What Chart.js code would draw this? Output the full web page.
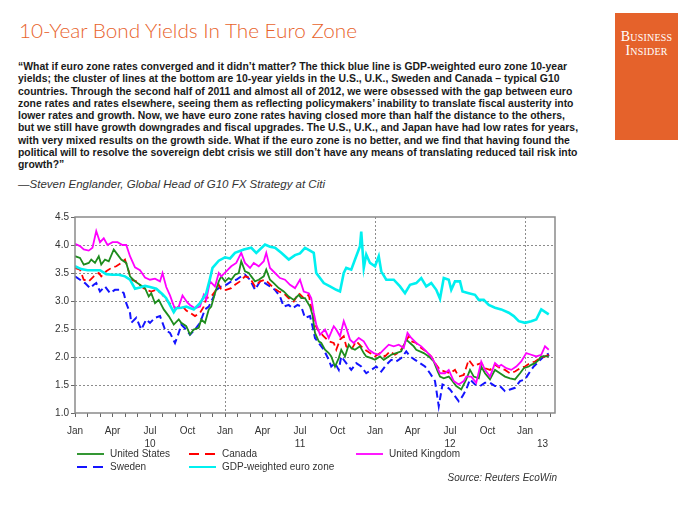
<!DOCTYPE html>
<html><head><meta charset="utf-8">
<script src="https://cdn.jsdelivr.net/npm/chart.js@4.4.0/dist/chart.umd.min.js"></script>
<style>
html,body{margin:0;padding:0;background:#fff;}
body{width:700px;height:525px;position:relative;overflow:hidden;font-family:"Liberation Sans",Arial,sans-serif;}
#title{position:absolute;left:19px;top:19px;font-family:Lato,"Liberation Sans",sans-serif;font-weight:300;font-size:20px;line-height:22px;color:#E8632C;white-space:nowrap;transform-origin:0 0;}
#logo{position:absolute;left:615px;top:13px;width:63px;height:127px;background:#E5622B;}
#logo div{position:absolute;left:0;width:63px;text-align:center;color:#fff;font-family:"Liberation Serif","DejaVu Serif",serif;font-variant:small-caps;font-size:14px;line-height:14px;letter-spacing:0.2px}
#quote{position:absolute;left:18px;top:60px;font-weight:bold;font-size:11px;line-height:12.3px;color:#1a1a1a;transform-origin:0 0;white-space:nowrap;}
#quote span{display:inline-block}
#attr{position:absolute;left:18px;top:177px;font-style:italic;font-size:11px;line-height:14px;color:#333;white-space:nowrap;transform-origin:0 0;}
#chartbox{position:absolute;left:0;top:200px;width:700px;height:300px;}
.leg{position:absolute;font-size:10px;line-height:12px;color:#333;white-space:nowrap;}
.sw{position:absolute;}
#source{position:absolute;right:143px;top:472px;font-size:10px;line-height:12px;font-style:italic;color:#333;white-space:nowrap;}
</style>
</head><body>
<div id="title">10-Year Bond Yields In The Euro Zone</div>
<div id="logo"><div style="top:17px">Business</div><div style="top:31px">Insider</div></div>
<div id="quote"><span id="q1">“What if euro zone rates converged and it didn’t matter? The thick blue line is GDP-weighted euro zone 10-year</span><br><span>yields; the cluster of lines at the bottom are 10-year yields in the U.S., U.K., Sweden and Canada – typical G10</span><br><span>countries. Through the second half of 2011 and almost all of 2012, we were obsessed with the gap between euro</span><br><span>zone rates and rates elsewhere, seeing them as reflecting policymakers’ inability to translate fiscal austerity into</span><br><span>lower rates and growth. Now, we have euro zone rates having closed more than half the distance to the others,</span><br><span>but we still have growth downgrades and fiscal upgrades. The U.S., U.K., and Japan have had low rates for years,</span><br><span>with very mixed results on the growth side. What if the euro zone is no better, and we find that having found the</span><br><span>political will to resolve the sovereign debt crisis we still don’t have any means of translating reduced tail risk into</span><br><span>growth?”</span></div>
<div id="attr">—Steven Englander, Global Head of G10 FX Strategy at Citi</div>
<div id="chartbox"><canvas id="c" width="700" height="300"></canvas></div>
<div id="legend"></div>
<div id="source">Source: Reuters EcoWin</div>
<script>
// x values are months since Jan 2010
const monthLabels = ['Jan','Apr','Jul','Oct'];
const yearLabels = ['10','11','12','13'];
const seriesNames = ['United States','Canada','United Kingdom','Sweden','GDP-weighted euro zone'];

const usX = [0,0.4,0.7,1.1,1.3,1.6,1.9,2.1,2.4,2.7,3.1,3.3,3.7,4.1,4.4,4.8,5.2,5.6,5.9,6.1,6.4,6.7,7.1,7.5,7.9,8.3,8.5,8.9,9.2,9.5,9.9,10.1,10.4,10.7,10.9,11.2,11.5,11.7,12.0,12.3,12.5,12.8,13.1,13.3,13.6,13.9,14.1,14.4,14.7,15.1,15.3,15.6,15.9,16.3,16.7,17.1,17.5,17.9,18.1,18.4,18.8,19.0,19.2,19.5,19.7,20.0,20.3,20.5,20.8,21.1,21.3,21.6,21.9,22.1,22.4,22.8,23.1,23.3,23.7,24.0,24.4,24.7,25.1,25.3,25.7,26.1,26.5,26.8,27.1,27.3,27.9,28.3,28.7,29.0,29.2,29.5,29.9,30.1,30.5,30.9,31.3,31.6,31.9,32.3,32.5,32.8,33.2,33.6,34.0,34.4,34.8,35.2,35.6,35.9,36.3,36.5,36.8,37.1,37.3,37.6,37.9];
const usY = [3.80,3.77,3.65,3.68,3.74,3.68,3.80,3.65,3.74,3.71,3.92,3.86,3.74,3.68,3.44,3.35,3.29,3.23,3.08,3.14,2.96,3.02,2.85,2.73,2.58,2.67,2.61,2.55,2.40,2.49,2.52,2.67,2.61,2.85,2.90,3.14,3.35,3.44,3.35,3.41,3.38,3.47,3.50,3.71,3.53,3.50,3.44,3.35,3.38,3.44,3.56,3.38,3.32,3.23,3.17,3.08,3.02,3.11,3.05,3.05,2.90,2.75,2.43,2.28,2.25,2.13,2.07,2.01,1.83,1.98,2.13,2.01,2.22,2.16,2.13,2.19,2.07,2.01,1.98,1.95,2.01,1.95,2.01,2.04,2.07,2.10,2.31,2.25,2.19,2.13,2.07,2.01,1.92,1.75,1.65,1.62,1.65,1.60,1.48,1.42,1.60,1.77,1.65,1.62,1.83,1.71,1.60,1.77,1.71,1.65,1.62,1.60,1.71,1.80,1.83,1.86,1.89,1.95,2.01,2.01,2.01];

const caX = [0,0.4,0.7,1.1,1.5,1.9,2.1,2.5,2.9,3.3,3.7,4.0,4.3,4.5,4.9,5.3,5.7,6.1,6.5,6.9,7.3,7.7,8.1,8.5,8.9,9.2,9.6,10.0,10.3,10.5,10.9,11.2,11.5,11.7,12.1,12.5,12.8,13.2,13.6,14.0,14.4,14.8,15.2,15.5,15.9,16.3,16.7,17.1,17.5,17.9,18.3,18.7,18.9,19.2,19.5,19.9,20.3,20.7,20.9,21.2,21.5,21.7,22.1,22.5,22.9,23.2,23.6,24.0,24.4,24.8,25.2,25.6,26.0,26.4,26.7,26.9,27.3,27.7,28.1,28.5,28.9,29.2,29.6,30.0,30.4,30.7,31.1,31.5,31.9,32.1,32.5,32.8,33.2,33.6,34.0,34.4,34.8,35.2,35.6,36.0,36.4,36.8,37.2,37.6,37.9];
const caY = [3.59,3.56,3.38,3.35,3.44,3.50,3.44,3.53,3.59,3.62,3.68,3.74,3.53,3.38,3.35,3.26,3.20,3.17,3.20,3.14,3.02,2.93,2.87,2.93,2.83,2.79,2.73,2.79,2.90,3.05,3.08,3.17,3.29,3.20,3.20,3.23,3.29,3.35,3.44,3.41,3.26,3.35,3.38,3.32,3.23,3.17,3.14,3.05,2.99,3.14,3.05,3.11,2.88,2.58,2.46,2.37,2.28,2.25,2.13,2.31,2.37,2.19,2.13,2.28,2.19,2.13,2.07,2.01,2.07,2.01,2.10,2.04,2.10,2.25,2.37,2.28,2.25,2.16,2.10,2.01,1.86,1.77,1.74,1.71,1.77,1.65,1.68,1.95,1.83,1.86,1.89,1.80,1.77,1.86,1.80,1.77,1.71,1.74,1.80,1.83,1.89,1.92,1.98,2.01,2.04];

const ukX = [0,0.4,0.7,1.1,1.4,1.7,2.0,2.3,2.6,3.0,3.4,3.8,4.1,4.4,4.8,5.2,5.6,6.0,6.4,6.8,7.0,7.3,7.6,8.0,8.3,8.6,9.0,9.2,9.6,10.0,10.3,10.5,10.8,11.2,11.5,11.7,12.1,12.5,12.9,13.3,13.6,14.0,14.3,14.7,15.1,15.3,15.6,16.0,16.4,16.8,17.2,17.6,18.0,18.3,18.7,18.9,19.1,19.3,19.6,20.0,20.3,20.7,20.9,21.2,21.5,21.7,22.0,22.3,22.7,23.1,23.5,23.9,24.3,24.7,25.1,25.5,25.9,26.3,26.6,26.9,27.3,27.7,28.1,28.5,28.9,29.2,29.6,29.9,30.3,30.7,31.1,31.3,31.7,32.1,32.5,32.8,33.2,33.6,33.9,34.1,34.5,34.9,35.3,35.7,36.1,36.5,36.9,37.3,37.6,37.9];
const ukY = [4.02,3.98,3.92,3.90,3.95,4.25,4.05,4.12,4.00,4.05,4.05,4.00,4.00,3.80,3.60,3.55,3.42,3.38,3.40,3.35,3.50,3.25,3.10,2.85,2.90,3.10,2.97,2.93,2.87,2.90,3.11,3.02,3.35,3.26,3.50,3.44,3.53,3.62,3.68,3.86,3.68,3.59,3.68,3.62,3.71,3.86,3.59,3.50,3.41,3.38,3.29,3.23,3.38,3.17,3.14,3.05,2.79,2.58,2.40,2.49,2.34,2.55,2.49,2.37,2.64,2.52,2.31,2.25,2.34,2.28,2.13,2.07,2.04,2.13,2.22,2.19,2.22,2.16,2.43,2.34,2.25,2.19,2.10,2.01,1.85,1.71,1.71,1.77,1.57,1.51,1.57,1.65,1.65,1.54,1.92,1.77,1.65,1.89,1.83,1.86,1.80,1.77,1.83,1.92,2.07,2.04,2.01,2.04,2.19,2.13];

const seX = [0,0.4,0.8,1.2,1.5,1.7,2.0,2.4,2.8,3.2,3.6,3.9,4.1,4.4,4.5,4.9,5.3,5.7,6.0,6.4,6.8,7.2,7.6,8.0,8.3,8.5,8.9,9.2,9.6,10.0,10.4,10.7,11.1,11.3,11.7,12.1,12.5,12.9,13.3,13.6,14.0,14.4,14.8,15.2,15.6,16.0,16.4,16.7,17.1,17.4,17.8,18.1,18.4,18.8,19.0,19.2,19.5,19.9,20.3,20.5,20.8,21.1,21.3,21.7,22.1,22.5,22.9,23.3,23.7,24.1,24.5,24.9,25.3,25.7,26.1,26.5,26.8,27.2,27.6,28.0,28.4,28.8,29.1,29.4,29.7,30.0,30.3,30.7,31.0,31.3,31.6,32.0,32.4,32.8,33.2,33.6,34.0,34.4,34.8,35.2,35.6,36.0,36.4,36.7,37.1,37.5,37.8,37.9];
const seY = [3.44,3.38,3.32,3.23,3.29,3.32,3.17,3.26,3.14,3.20,3.20,3.14,2.96,2.79,2.61,2.70,2.49,2.67,2.61,2.70,2.73,2.49,2.43,2.25,2.43,2.58,2.49,2.40,2.49,2.61,2.85,2.90,3.08,3.20,3.26,3.29,3.35,3.38,3.44,3.47,3.38,3.20,3.35,3.32,3.26,3.20,3.08,2.90,2.93,2.87,2.93,2.90,2.70,2.73,2.55,2.34,2.25,2.13,1.95,1.83,1.89,1.77,2.01,1.89,1.77,1.89,1.83,1.71,1.77,1.83,1.74,1.86,1.95,1.92,1.98,2.10,2.01,1.95,1.89,1.83,1.71,1.57,1.12,1.51,1.48,1.42,1.33,1.21,1.30,1.42,1.60,1.51,1.48,1.54,1.54,1.48,1.48,1.39,1.42,1.45,1.57,1.60,1.74,1.83,1.92,2.01,2.07,2.01];

const euX = [0,0.5,1.0,1.5,2.0,2.5,3.0,3.5,4.0,4.4,4.8,5.2,5.6,6.0,6.5,7.0,7.3,7.9,8.1,8.5,8.9,9.5,10.0,10.5,10.8,11.0,11.5,12.0,12.4,12.8,13.5,14.1,14.5,15.2,15.6,16.0,16.5,17.1,17.6,18.0,18.4,18.8,19.1,19.3,19.9,20.4,20.9,21.2,21.5,21.7,22.1,22.4,22.8,22.9,23.1,23.3,23.6,24.0,24.3,24.5,24.9,25.5,26.0,26.4,26.8,27.3,27.7,28.1,28.5,28.9,29.2,29.5,29.9,30.1,30.4,30.8,31.0,31.5,32.0,32.3,32.7,33.1,33.6,34.1,34.7,35.1,35.5,36.0,36.5,36.9,37.3,37.9];
const euY = [3.62,3.57,3.55,3.55,3.55,3.48,3.47,3.47,3.44,3.38,3.22,3.24,3.27,3.25,3.22,3.12,3.05,2.80,2.87,2.88,2.90,2.85,2.96,3.14,3.40,3.59,3.72,3.78,3.76,3.86,3.92,3.95,3.86,4.01,3.97,3.95,3.86,3.74,3.82,3.85,3.95,3.90,3.86,3.50,3.32,3.26,3.20,3.17,3.50,3.59,3.56,3.74,3.98,4.24,3.59,3.83,3.68,3.62,3.80,3.53,3.38,3.38,3.26,3.14,3.29,3.32,3.41,3.26,3.32,3.20,3.04,3.41,3.38,3.20,3.35,3.35,3.17,3.14,3.11,3.02,3.02,2.93,2.88,2.85,2.79,2.73,2.64,2.61,2.64,2.67,2.85,2.76];

const yTicks = [1.0,1.5,2.0,2.5,3.0,3.5,4.0,4.5];
const xTicks = [];
for (let m = 0; m <= 38; m++) { xTicks.push(m); if (m === 37) xTicks.push(37.4); }

const colors = ['#1E8C1E','#FF0000','#FF00FF','#1414FF','#00F0F0'];
const widths = [1.8,1.8,1.8,2,2.6];
const dashes = [[],[7,4],[],[7,4],[]];
const xs = [usX,caX,ukX,seX,euX];
const ys = [usY,caY,ukY,seY,euY];
const orders = [2,3,1,4,0];

const datasets = seriesNames.map((name,i)=>({
  label:name,
  data: xs[i].map((x,j)=>({x:x,y:ys[i][j]})),
  borderColor: colors[i], borderWidth: widths[i], borderDash: dashes[i],
  pointRadius:0, fill:false, tension:0, order: orders[i]
}));

function xLabel(v){
  if (Math.abs(v-37.4) < 0.01) return ['', yearLabels[3]];
  if (v % 3 !== 0) return '';
  const name = monthLabels[(v % 12)/3];
  if (v % 12 === 6) return [name, yearLabels[(v-6)/12]];
  return name;
}

const boxPlugin = {
  id:'box',
  afterDraw(chart){
    const {ctx, chartArea:a} = chart;
    ctx.save();
    ctx.strokeStyle = '#8a8a8a';
    ctx.lineWidth = 1.5;
    ctx.strokeRect(a.left, a.top, a.right-a.left, a.bottom-a.top);
    ctx.restore();
  }
};

const font = {family:'"Liberation Sans", Arial, sans-serif', size:10, lineHeight:1.3};
const GRIDC = '#8c8c8c';

new Chart(document.getElementById('c'), {
  type:'line',
  data:{datasets},
  plugins:[boxPlugin],
  options:{
    animation:false, responsive:false,
    layout:{padding:{left:35,right:145,top:17,bottom:47}},
    plugins:{legend:{display:false}, tooltip:{enabled:false}},
    scales:{
      x:{
        type:'linear', min:0, max:38.4,
        afterBuildTicks:(s)=>{ s.ticks = xTicks.map(v=>({value:v})); },
        afterFit:(s)=>{ s.height = 40; },
        ticks:{autoSkip:false, maxRotation:0, minRotation:0, padding:8, color:'#333', font:font, callback:(v)=>xLabel(v)},
        grid:{
          color:(c)=> (c.tick && c.tick.value>0 && c.tick.value%12===0) ? GRIDC : 'rgba(255,255,255,0)',
          tickColor:(c)=> (c.tick && Math.abs(c.tick.value-37.4)<0.01) ? 'rgba(255,255,255,0)' : '#666',
          tickLength:4, lineWidth:1
        },
        border:{display:false, dash:[2,2]}
      },
      y:{
        type:'linear', min:1, max:4.5,
        afterBuildTicks:(s)=>{ s.ticks = yTicks.map(v=>({value:v})); },
        afterFit:(s)=>{ s.width = 40; },
        ticks:{padding:2, color:'#333', font:font, callback:(v)=>Number(v).toFixed(1)},
        grid:{
          color:(c)=> (c.tick && c.tick.value>1 && c.tick.value<4.5) ? GRIDC : 'rgba(255,255,255,0)',
          tickColor:'#666', tickLength:4, lineWidth:1
        },
        border:{display:false, dash:[2,2]}
      }
    }
  }
});

// HTML legend
const legPos = [[77,110,454.3],[189,222,454.3],[356,389,454.3],[77,110,466.7],[189,222,466.7]];
const legend = document.getElementById('legend');
seriesNames.forEach((name,i)=>{
  const [lx,tx,cy] = legPos[i];
  const svg = document.createElementNS('http://www.w3.org/2000/svg','svg');
  svg.setAttribute('width','28'); svg.setAttribute('height','4');
  svg.setAttribute('class','sw');
  svg.style.left = lx+'px'; svg.style.top = (cy-2)+'px';
  const ln = document.createElementNS('http://www.w3.org/2000/svg','line');
  ln.setAttribute('x1','0'); ln.setAttribute('x2','27'); ln.setAttribute('y1','2'); ln.setAttribute('y2','2');
  ln.setAttribute('stroke', colors[i]); ln.setAttribute('stroke-width', i===4 ? '2' : '1.8');
  if (dashes[i].length) ln.setAttribute('stroke-dasharray','10,6');
  svg.appendChild(ln);
  legend.appendChild(svg);
  const t = document.createElement('div');
  t.className='leg'; t.textContent = name;
  t.style.left = tx+'px'; t.style.top = (cy-6)+'px';
  legend.appendChild(t);
});

// fit text widths
function fitW(el, target){ const w = el.getBoundingClientRect().width; return target / w; }
const title = document.getElementById('title');
title.style.transform = 'scaleX(' + fitW(title, 338) + ')';
const q1 = document.getElementById('q1');
document.getElementById('quote').style.transform = 'scaleX(' + fitW(q1, 549) + ')';
const attr = document.getElementById('attr');
attr.style.transform = 'scaleX(' + fitW(attr, 307) + ')';
</script>
</body></html>
